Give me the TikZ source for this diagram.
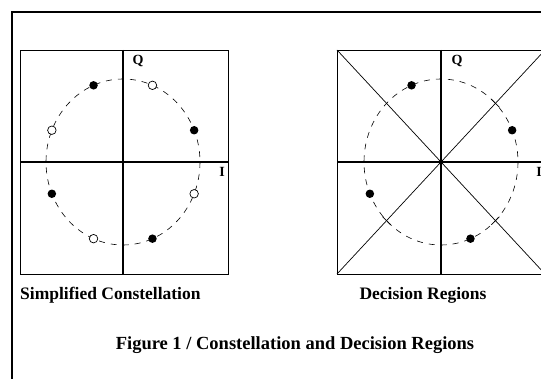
\documentclass[tikz,border=0pt]{standalone}
\usepackage{fontspec}
\setmainfont{Liberation Serif}
\usetikzlibrary{calc}
\begin{document}
\begin{tikzpicture}[x=1pt,y=-1pt,>=stealth,
  frame/.style={line width=1.6pt},
  panel/.style={line width=0.7pt},
  axis/.style={line width=1.1pt},
  orbit/.style={dash pattern=on 6pt off 6pt,line width=0.6pt},
  full/.style={circle,fill=black,inner sep=0pt,minimum size=8.5pt},
  hollow/.style={circle,draw=black,fill=white,line width=0.7pt,inner sep=0pt,minimum size=8.5pt},
  axlabel/.style={font=\bfseries\fontsize{14}{14}\selectfont,inner sep=0pt},
  caption/.style={font=\bfseries\fontsize{17.5}{18}\selectfont,inner sep=0pt}]
	\useasboundingbox (0,0) rectangle (541,379);
	\clip (0,0) rectangle (541,379);
	% outer frame
	\draw[frame] (12,380)--(12,12)--(542,12);
	% left panel: simplified constellation
	\coordinate (lc) at (123,162);
	\draw[panel] (20,50) rectangle (228,274);
	\draw[axis] (123,50)--(123,274);
	\draw[axis] (20,162)--(228,162);
	\draw[orbit] (lc) ellipse[x radius=77,y radius=83];
	\foreach \a [count=\i] in {22.5,112.5,202.5,292.5}
		\node[full] (lf\i) at ($(lc)+({77*cos(\a)},{-83*sin(\a)})$) {};
	\foreach \a [count=\i] in {67.5,157.5,247.5,337.5}
		\node[hollow] (lh\i) at ($(lc)+({77*cos(\a)},{-83*sin(\a)})$) {};
	\node[axlabel] (lq) at (138,61) {Q};
	\node[axlabel] (li) at (222,172) {I};
	\node[caption,anchor=base west] (lcap) at (20,300) {Simplified Constellation};
	% right panel: decision regions
	\coordinate (rc) at (441,162);
	\draw[panel] (337,50) rectangle (545,274);
	\draw[axis] (441,50)--(441,274);
	\draw[axis] (337,162)--(545,162);
	\draw[panel] (337,50)--(545,274);
	\draw[panel] (337,274)--(545,50);
	\draw[orbit] (rc) ellipse[x radius=77,y radius=83];
	\foreach \a [count=\i] in {22.5,112.5,202.5,292.5}
		\node[full] (rf\i) at ($(rc)+({77*cos(\a)},{-83*sin(\a)})$) {};
	\fill (rc) circle(2.5pt);
	% ticks where the boundaries cut the circle
	\foreach \sx/\sy in {1/-1,-1/1,1/1}
		\draw[panel] ($(rc)+(54.4*\sx,58.7*\sy)+(4*\sx*\sy,-4)$)--++(-8*\sx*\sy,8);
	\node[axlabel] (rq) at (457,61) {Q};
	\node[axlabel] (ri) at (539,172) {I};
	\node[caption,anchor=base] (rcap) at (423,300) {Decision Regions};
	% title
	\node[caption,font=\bfseries\fontsize{18.5}{19}\selectfont,anchor=base] (title) at (295,350) {Figure 1 / Constellation and Decision Regions};
\end{tikzpicture}
\end{document}
